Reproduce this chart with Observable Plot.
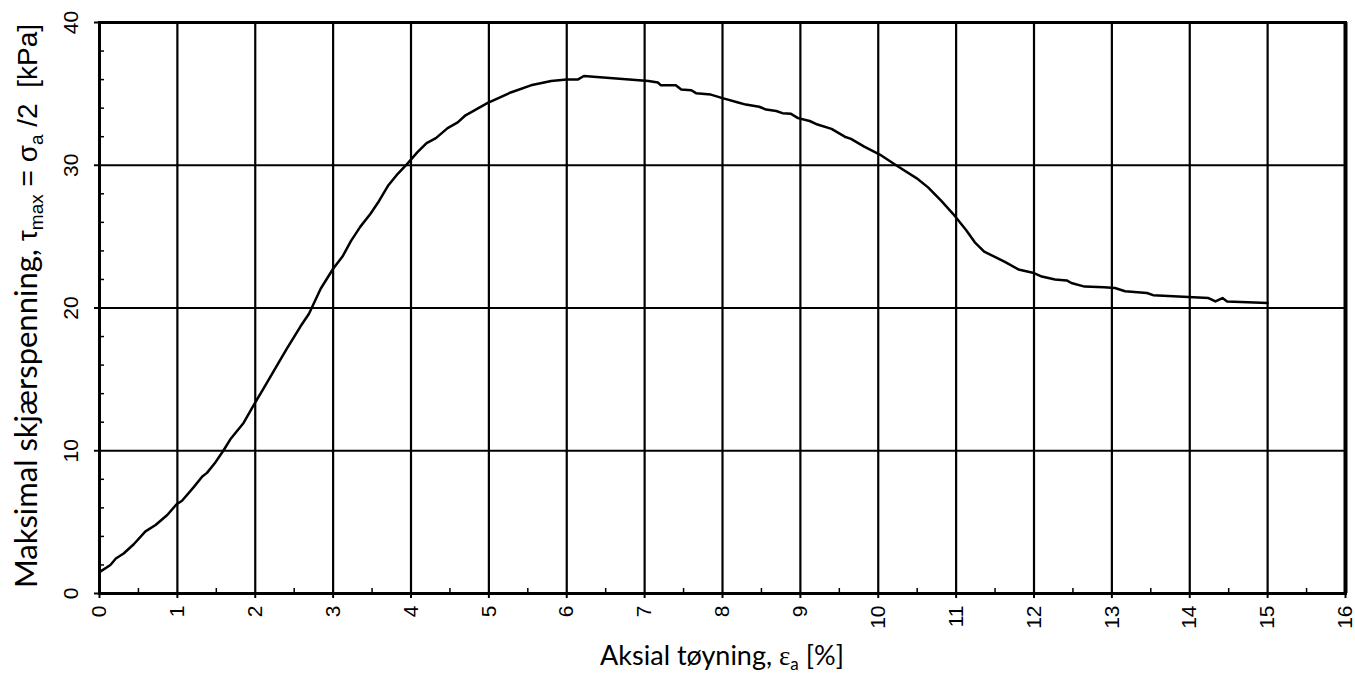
<!DOCTYPE html>
<html>
<head>
<meta charset="utf-8">
<script src="https://cdn.jsdelivr.net/npm/d3@7"></script>
<script src="https://cdn.jsdelivr.net/npm/@observablehq/plot@0.6"></script>
<style>
  html, body { margin: 0; padding: 0; background: white; }
  #chart svg { display: block; }
</style>
</head>
<body>
<div id="chart"></div>
<script>
// Axial strain (%) readings
const strain = [
  0, 0.14, 0.21, 0.31, 0.44, 0.59, 0.72, 0.87, 0.99, 1.06,
  1.21, 1.32, 1.38, 1.49, 1.59, 1.68, 1.85, 1.98, 2.1, 2.25,
  2.4, 2.58, 2.69, 2.84, 3.0, 3.12, 3.23, 3.35, 3.48, 3.59,
  3.71, 3.83, 3.96, 4.08, 4.2, 4.32, 4.47, 4.6, 4.7, 4.98,
  5.28, 5.54, 5.8, 6.0, 6.14, 6.22, 7.05, 7.17, 7.21, 7.4,
  7.47, 7.6, 7.66, 7.85, 8.0, 8.2, 8.3, 8.47, 8.56, 8.69,
  8.77, 8.88, 8.97, 9.12, 9.22, 9.4, 9.57, 9.65, 9.82, 10.02,
  10.23, 10.3, 10.49, 10.64, 10.81, 10.96, 11.13, 11.24, 11.36, 11.62,
  11.8, 12.0, 12.1, 12.27, 12.42, 12.48, 12.65, 12.9, 13.04, 13.17,
  13.45, 13.53, 14.24, 14.33, 14.42, 14.48, 15.0
];
// Max shear stress (kPa) readings
const shear = [
  1.5, 2.0, 2.45, 2.8, 3.45, 4.35, 4.8, 5.5, 6.25, 6.5,
  7.45, 8.2, 8.45, 9.2, 10.0, 10.8, 11.95, 13.2, 14.3, 15.7,
  17.1, 18.7, 19.6, 21.35, 22.75, 23.6, 24.7, 25.7, 26.6, 27.5,
  28.6, 29.4, 30.15, 30.9, 31.55, 31.9, 32.6, 33.0, 33.5, 34.35,
  35.1, 35.6, 35.9, 36.0, 36.0, 36.25, 35.9, 35.8, 35.6, 35.6,
  35.3, 35.25, 35.05, 34.95, 34.7, 34.4, 34.25, 34.1, 33.9, 33.8,
  33.65, 33.6, 33.3, 33.1, 32.85, 32.55, 32.0, 31.85, 31.3, 30.75,
  30.0, 29.75, 29.1, 28.45, 27.5, 26.6, 25.45, 24.6, 23.95, 23.25,
  22.7, 22.45, 22.2, 22.0, 21.93, 21.75, 21.5, 21.45, 21.4, 21.17,
  21.05, 20.9, 20.7, 20.46, 20.7, 20.46, 20.35
];
const xTicks = [0,1,2,3,4,5,6,7,8,9,10,11,12,13,14,15,16];
const yTicks = [0,10,20,30,40];
const xMinor = [0.5,1.5,2.5,3.5,4.5,5.5,6.5,7.5,8.5,9.5,10.5,11.5,12.5,13.5,14.5,15.5];
const yMinor = [2,4,6,8,12,14,16,18,22,24,26,28,32,34,36,38];

const data = strain.map((x, i) => ({x, y: shear[i]}));

const W = 1355, H = 675;
const mL = 99, mR = 10, mT = 22, mB = 82;
const pxX = (W - mL - mR) / 16;   // px per x unit
const pxY = (H - mT - mB) / 40;   // px per y unit

const chart = Plot.plot({
  width: W, height: H,
  marginLeft: mL, marginRight: mR, marginTop: mT, marginBottom: mB,
  x: {domain: [0, 16]},
  y: {domain: [0, 40]},
  style: {fontFamily: "'Liberation Sans', Arial, sans-serif", fontSize: "21px", color: "black", background: "white", overflow: "visible"},
  marks: [
    Plot.gridX(xTicks, {stroke: "black", strokeOpacity: 1, strokeWidth: 2.2}),
    Plot.gridY(yTicks, {stroke: "black", strokeOpacity: 1, strokeWidth: 2.2}),
    Plot.ruleX(xMinor, {y1: 0, y2: 5 / pxY, stroke: "black", strokeWidth: 1.5}),
    Plot.ruleY(yMinor, {x1: 0, x2: 5 / pxX, stroke: "black", strokeWidth: 1.5}),
    Plot.axisX({ticks: xTicks, tickSize: 5, tickFormat: () => "", label: null, strokeWidth: 2}),
    Plot.axisY({ticks: yTicks, tickSize: 5, tickFormat: () => "", label: null, strokeWidth: 2}),
    Plot.frame({stroke: "black", strokeWidth: 3}),
    Plot.ruleX([16], {stroke: "black", strokeWidth: 4}),
    Plot.line(data, {x: "x", y: "y", stroke: "black", strokeWidth: 2.5}),
    Plot.text(xTicks, {x: d => d, y: 0, text: d => String(d), rotate: -90, textAnchor: "end", lineAnchor: "middle", dy: 12, fontSize: 21}),
    Plot.text(yTicks, {x: 0, y: d => d, text: d => String(d), rotate: -90, textAnchor: "middle", lineAnchor: "bottom", dx: -22, fontSize: 21})
  ]
});
document.getElementById("chart").appendChild(chart);

const svg = d3.select(chart);
const wordFont = "Lato, 'Open Sans', sans-serif";
const symFont = "'Liberation Sans', Arial, sans-serif";

// Y axis title
const yt = svg.append("text")
  .attr("transform", `translate(37, ${(mT + 590) / 2}) rotate(-90)`)
  .attr("text-anchor", "middle")
  .attr("font-family", wordFont)
  .attr("font-size", 31)
  .attr("fill", "black")
  .style("white-space", "pre");
yt.append("tspan").text("Maksimal skjærspenning, ");
yt.append("tspan").attr("font-family", symFont).attr("font-size", 28).text("τ");
yt.append("tspan").attr("font-family", symFont).attr("font-size", 19).attr("dy", 6).text("max");
yt.append("tspan").attr("font-family", symFont).attr("font-size", 28).attr("dy", -6).text(" = σ");
yt.append("tspan").attr("font-family", symFont).attr("font-size", 19).attr("dy", 6).text("a");
yt.append("tspan").attr("font-family", symFont).attr("font-size", 28).attr("dy", -6).text(" /2  [kPa]");

// X axis title
const xt = svg.append("text")
  .attr("x", 722)
  .attr("y", 665)
  .attr("text-anchor", "middle")
  .attr("font-family", wordFont)
  .attr("font-size", 27)
  .attr("fill", "black")
  .style("white-space", "pre");
xt.append("tspan").text("Aksial tøyning, ");
xt.append("tspan").attr("font-family", "'Liberation Serif', serif").text("ε");
xt.append("tspan").attr("font-size", 17).attr("dy", 5).text("a");
xt.append("tspan").attr("dy", -5).text(" [%]");
</script>
</body>
</html>
